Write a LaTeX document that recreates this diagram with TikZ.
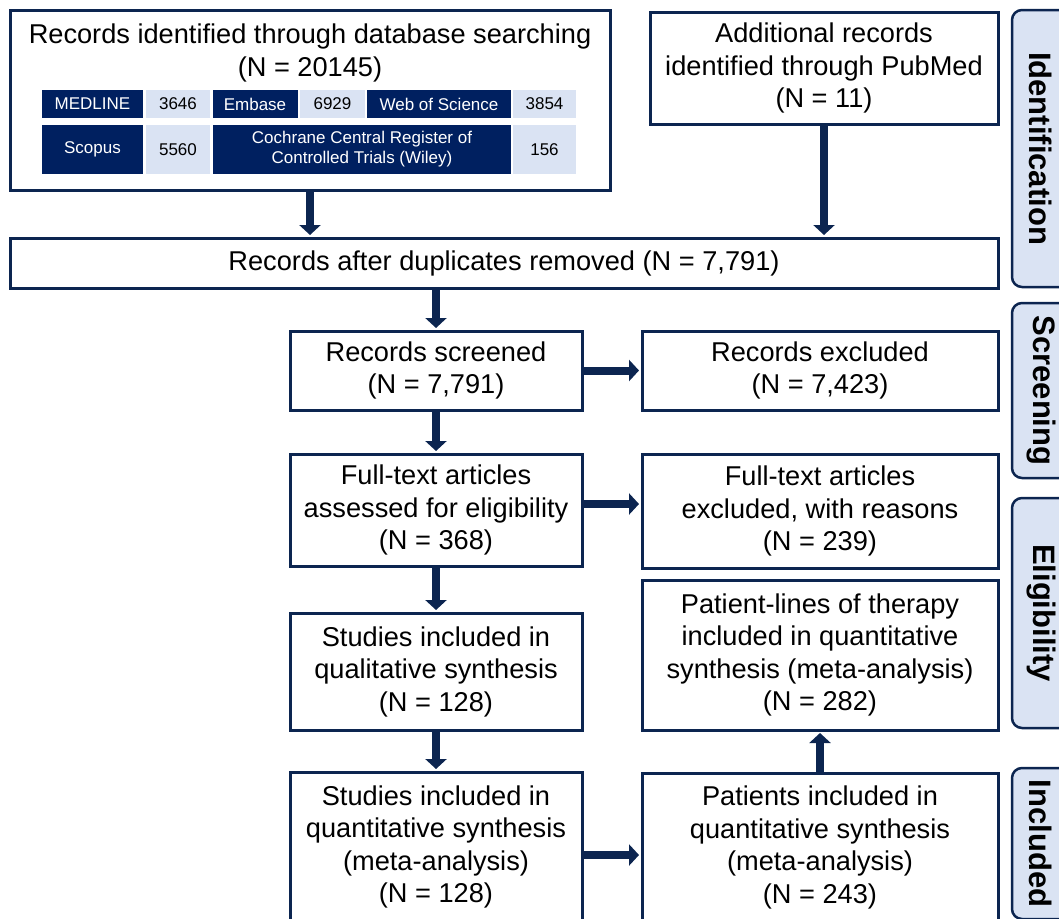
\documentclass[tikz,border=0pt]{standalone}
\usepackage{fontspec}
\setmainfont{Liberation Sans}
\usetikzlibrary{arrows.meta,positioning}
\definecolor{navy}{RGB}{12,37,80}
\definecolor{cellnavy}{RGB}{0,32,96}
\definecolor{celllight}{RGB}{218,227,243}

\begin{document}
\begin{tikzpicture}[x=1pt,y=-1pt,
    stage/.style={draw=navy,line width=3pt,fill=white,align=center,inner sep=0pt,
      font=\fontsize{27.2}{32.5}\selectfont},
    dbcell/.style={fill=cellnavy,text=white,inner sep=0pt,align=center,
      font=\fontsize{17}{20}\selectfont},
    numcell/.style={fill=celllight,inner sep=0pt,font=\fontsize{17}{20}\selectfont},
    phase/.style={draw=navy,line width=2.5pt,fill=celllight,rounded corners=10pt,
      rotate=-90,minimum height=58pt,font=\bfseries\fontsize{31}{31}\selectfont},
    flow/.style={draw=navy,line width=8pt,shorten >=1.5pt,
      -{Triangle[width=21pt,length=10pt]}}]
  \useasboundingbox (0,0) rectangle (1059,918);
  \clip (0,0) rectangle (1059,918);

  % identification
  \node[stage,minimum width=600pt,minimum height=180pt] (db) at (310,100) {};
  \node[align=center,font=\fontsize{27.2}{32.5}\selectfont] (dbtitle) at (310,53)
    {Records identified through database searching\\(N = 20145)};
  \node[dbcell,minimum width=101pt,minimum height=28pt] (medline) at (92.5,104) {MEDLINE};
  \node[numcell,minimum width=63.5pt,minimum height=28pt] (nmedline) at (178,104) {3646};
  \node[dbcell,minimum width=85pt,minimum height=28pt] (embase) at (255,104) {Embase};
  \node[numcell,minimum width=65pt,minimum height=28pt] (nembase) at (332.5,104) {6929};
  \node[dbcell,minimum width=143.5pt,minimum height=28pt] (wos) at (439,104) {Web of Science};
  \node[numcell,minimum width=63pt,minimum height=28pt] (nwos) at (544.5,104) {3854};
  \node[dbcell,minimum width=101pt,minimum height=49pt] (scopus) at (92.5,149.5) {Scopus};
  \node[numcell,minimum width=63.5pt,minimum height=49pt] (nscopus) at (178,149.5) {5560};
  \node[dbcell,minimum width=298pt,minimum height=49pt] (cochrane) at (362,149.5)
    {Cochrane Central Register of\\Controlled Trials (Wiley)};
  \node[numcell,minimum width=63pt,minimum height=49pt] (ncochrane) at (544.5,149.5) {156};

  \node[stage,minimum width=348pt,minimum height=112pt] (pubmed) at (824,68)
    {Additional records\\identified through PubMed\\(N = 11)};
  \node[stage,minimum width=988pt,minimum height=50pt] (dedup) at (504,263)
    {Records after duplicates removed (N = 7,791)};

  % screening
  \node[stage,minimum width=292pt,minimum height=79pt] (screened) at (436,370.5)
    {Records screened\\(N = 7,791)};
  \node[stage,minimum width=356pt,minimum height=79pt] (excl) at (820,370.5)
    {Records excluded\\(N = 7,423)};

  % eligibility
  \node[stage,minimum width=292pt,minimum height=112pt] (fulltext) at (436,510)
    {Full-text articles\\assessed for eligibility\\(N = 368)};
  \node[stage,minimum width=356pt,minimum height=114pt] (ftexcl) at (820,511)
    {Full-text articles\\excluded, with reasons\\(N = 239)};
  \node[stage,minimum width=292pt,minimum height=117pt] (qual) at (436,671.5)
    {Studies included in\\qualitative synthesis\\(N = 128)};
  \node[stage,minimum width=356pt,minimum height=150pt] (lines) at (820,655)
    {Patient-lines of therapy\\included in quantitative\\synthesis (meta-analysis)\\(N = 282)};

  % included
  \node[stage,minimum width=292pt,minimum height=150pt] (quant) at (436,847)
    {Studies included in\\quantitative synthesis\\(meta-analysis)\\(N = 128)};
  \node[stage,minimum width=356pt,minimum height=149pt] (patients) at (820,847.5)
    {Patients included in\\quantitative synthesis\\(meta-analysis)\\(N = 243)};

  \draw[flow] (db.south) -- (db.south |- dedup.north);
  \draw[flow] (pubmed.south) -- (pubmed.south |- dedup.north);
  \draw[flow] (dedup.south -| screened.north) -- (screened.north);
  \draw[flow] (screened.east) -- (excl.west);
  \draw[flow] (screened.south) -- (fulltext.north);
  \draw[flow] ([yshift=6pt]fulltext.east) -- ([yshift=6pt]fulltext.east -| ftexcl.west);
  \draw[flow] (fulltext.south) -- (qual.north);
  \draw[flow] (qual.south) -- (quant.north);
  \draw[flow] ([yshift=-8pt]quant.east) -- ([yshift=-8pt]quant.east -| patients.west);
  \draw[flow] (patients.north) -- (lines.south);

  % phase tabs
  \node[phase,minimum width=277pt] (tabid) at (1041,148.5) {Identification};
  \node[phase,minimum width=175pt] (tabscr) at (1041,390.5) {Screening};
  \node[phase,minimum width=230pt] (tabelig) at (1041,613) {Eligibility};
  \node[phase,minimum width=151pt] (tabincl) at (1041,843.5) {Included};
\end{tikzpicture}
\end{document}
